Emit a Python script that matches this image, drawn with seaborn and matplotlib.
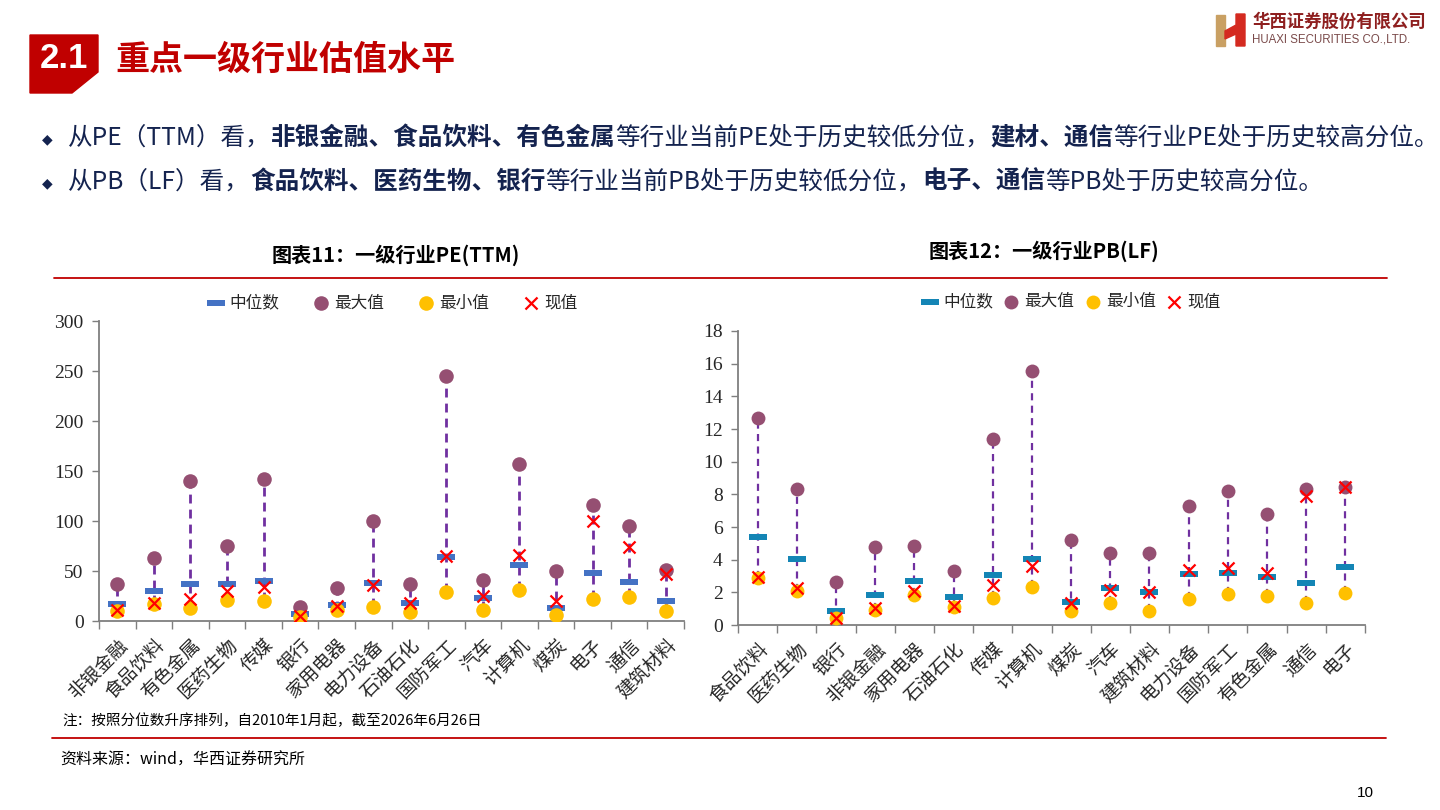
import numpy as np
import pandas as pd
import matplotlib
matplotlib.use("Agg")
import matplotlib.pyplot as plt
import matplotlib.patches as mpatches
import seaborn as sns

# ---- data: PE(TTM) ----
pe_industry = ["非银金融", "食品饮料", "有色金属", "医药生物", "传媒", "银行", "家用电器", "电力设备",
               "石油石化", "国防军工", "汽车", "计算机", "煤炭", "电子", "通信", "建筑材料"]
pe_median = [17, 30, 37, 37, 40, 7, 16, 38, 18, 64, 23, 56, 13, 48, 39, 20]
pe_max = [37, 63, 140, 75, 142, 14, 33, 100, 37, 245, 41, 157, 50, 116, 95, 51]
pe_min = [10, 17, 13, 21, 20, 4, 11, 14, 9, 29, 11, 31, 6, 22, 24, 10]
pe_now = [11, 18, 22, 30, 34, 5, 15, 36, 18, 65, 25, 66, 20, 100, 74, 47]

# ---- data: PB(LF) ----
pb_industry = ["食品饮料", "医药生物", "银行", "非银金融", "家用电器", "石油石化", "传媒", "计算机",
               "煤炭", "汽车", "建筑材料", "电力设备", "国防军工", "有色金属", "通信", "电子"]
pb_median = [5.36, 4.04, 0.86, 1.83, 2.71, 1.69, 3.06, 4.04, 1.43, 2.24, 2.0, 3.12, 3.2, 2.92, 2.55, 3.53]
pb_max = [12.68, 8.32, 2.61, 4.75, 4.83, 3.3, 11.38, 15.53, 5.2, 4.42, 4.38, 7.28, 8.22, 6.77, 8.3, 8.46]
pb_min = [2.9, 2.08, 0.41, 0.92, 1.83, 1.08, 1.63, 2.35, 0.83, 1.36, 0.88, 1.57, 1.88, 1.75, 1.35, 1.98]
pb_now = [2.91, 2.24, 0.41, 1.02, 2.1, 1.18, 2.45, 3.63, 1.36, 2.14, 2.0, 3.36, 3.47, 3.2, 7.9, 8.46]

W, H = 1440, 810
RED = "#C00000"
NAVY = "#14234F"
C_MAX = "#954F72"
C_MIN = "#FFC000"
C_NOW = "#FF0000"
C_LINE = "#7030A0"
BAR = [(-1.6, -0.5), (1.6, -0.5), (1.6, 0.5), (-1.6, 0.5), (-1.6, -0.5)]


def fx(x):
    return x / W


def fy(y):
    return 1 - y / H


def draw_runs(fig, x, y, runs, size, color):
    """Write text pieces one after another, some of them bold."""
    r = fig.canvas.get_renderer()
    for text, bold in runs:
        t = fig.text(fx(x), fy(y), text, fontsize=size, color=color, va="center",
                     fontweight="bold" if bold else "normal")
        x += t.get_window_extent(r).width


def draw_panel(ax, industry, median, vmax, vmin, now, med_color, ymax, ystep,
               s_dot, lw, dash, leg_pos, colspace):
    df = pd.DataFrame({"行业": industry, "中位数": median, "最大值": vmax,
                       "最小值": vmin, "现值": now})
    sns.scatterplot(data=df, x="行业", y="中位数", marker=BAR, s=175, color=med_color,
                    linewidth=0, label="中位数", ax=ax, zorder=3)
    sns.scatterplot(data=df, x="行业", y="最大值", marker="o", s=s_dot, color=C_MAX,
                    linewidth=0, label="最大值", ax=ax, zorder=3)
    sns.scatterplot(data=df, x="行业", y="最小值", marker="o", s=s_dot, color=C_MIN,
                    linewidth=0, label="最小值", ax=ax, zorder=4)
    sns.scatterplot(data=df, x="行业", y="现值", marker="x", s=75, color=C_NOW,
                    linewidth=1.6, label="现值", ax=ax, zorder=5)
    ax.vlines(df["行业"], df["最小值"], df["最大值"], colors=C_LINE, lw=lw,
              linestyles=(0, dash), zorder=2)

    n = len(df)
    ax.set_xlim(-0.5, n - 0.5)
    ax.set_ylim(0, ymax)
    ax.set_xticks(np.arange(n))
    ax.set_xticklabels(industry, rotation=45, ha="right", rotation_mode="anchor",
                       fontsize=13.5)
    ax.set_xticks(np.arange(-0.5, n, 1), minor=True)
    yt = np.arange(0, ymax + ystep / 2, ystep)
    ax.set_yticks(yt)
    ax.set_yticklabels([f"{v:g}" for v in yt], fontfamily="Liberation Serif", fontsize=14)
    ax.tick_params(axis="x", which="major", length=0, pad=10)
    ax.tick_params(axis="x", which="minor", length=6, width=1, color="#7F7F7F")
    ax.tick_params(axis="y", length=5, width=1, color="#7F7F7F", pad=6)
    ax.set_xlabel("")
    ax.set_ylabel("")
    sns.despine(ax=ax)
    for side in ["left", "bottom"]:
        ax.spines[side].set_color("#7F7F7F")
        ax.spines[side].set_linewidth(1.3)
    ax.legend(loc="center", bbox_to_anchor=leg_pos, ncol=4, frameon=False,
              fontsize=12, handletextpad=0.2, columnspacing=colspace,
              borderaxespad=0, handlelength=1.2)


sns.set_style("ticks")
plt.rcParams["font.family"] = ["Noto Sans CJK SC", "DejaVu Sans"]
plt.rcParams["axes.unicode_minus"] = False

fig = plt.figure(figsize=(14.4, 8.1), dpi=100)

# header block
fig.patches.append(mpatches.Polygon(
    [(fx(30), fy(35)), (fx(98), fy(35)), (fx(98), fy(72)), (fx(72), fy(93)), (fx(30), fy(93))],
    closed=True, transform=fig.transFigure, color=RED))
fig.text(fx(64), fy(59), "2.1", color="white", fontsize=25, fontweight="bold",
         family="Liberation Sans", ha="center", va="center")
fig.text(fx(115), fy(59), "重点一级行业估值水平", color=RED, fontsize=24.5,
         fontweight="bold", va="center")

# logo
fig.patches.append(mpatches.Rectangle((fx(1216), fy(46)), 9 / W, 31 / H,
                                      transform=fig.transFigure, color="#C9A063"))
fig.patches.append(mpatches.Polygon(
    [(fx(1236), fy(14)), (fx(1245), fy(14)), (fx(1245), fy(46)), (fx(1236), fy(46)),
     (fx(1236), fy(34)), (fx(1225), fy(39)), (fx(1225), fy(31)), (fx(1236), fy(25))],
    closed=True, transform=fig.transFigure, color="#D42A20"))
fig.text(fx(1252), fy(22), "华西证券股份有限公司", color="#8E1F1F", fontsize=12.5,
         fontweight="bold", va="center")
fig.text(fx(1252), fy(40), "HUAXI SECURITIES CO.,LTD.", color="#7A4A4A", fontsize=8.3,
         family="Liberation Sans", va="center")

# bullets
fig.text(fx(47), fy(139), "◆", fontsize=10, color=NAVY, family="DejaVu Sans",
         ha="center", va="center")
fig.text(fx(47), fy(183), "◆", fontsize=10, color=NAVY, family="DejaVu Sans",
         ha="center", va="center")
draw_runs(fig, 68, 138, [("从PE（TTM）看，", False), ("非银金融、食品饮料、有色金属", True),
                         ("等行业当前PE处于历史较低分位，", False), ("建材、通信", True),
                         ("等行业PE处于历史较高分位。", False)], 17.7, NAVY)
draw_runs(fig, 68, 182, [("从PB（LF）看，", False), ("食品饮料、医药生物、银行", True),
                         ("等行业当前PB处于历史较低分位，", False), ("电子、通信", True),
                         ("等PB处于历史较高分位。", False)], 17.7, NAVY)

# chart titles and rules
fig.text(fx(396), fy(255), "图表11：一级行业PE(TTM)", fontsize=14.5, fontweight="bold",
         ha="center", va="center", color="black")
fig.text(fx(1044), fy(251), "图表12：一级行业PB(LF)", fontsize=14.5, fontweight="bold",
         ha="center", va="center", color="black")
fig.add_artist(plt.Line2D([fx(54), fx(1387)], [fy(278), fy(278)], color=RED, lw=1.3))
fig.add_artist(plt.Line2D([fx(52), fx(1386)], [fy(738), fy(738)], color=RED, lw=1.3))

ax1 = fig.add_axes([fx(99), fy(621), (684 - 99) / W, 300 / H])
draw_panel(ax1, pe_industry, pe_median, pe_max, pe_min, pe_now, "#4472C4", 300, 50,
           s_dot=110, lw=2, dash=(3.2, 2.2), leg_pos=(0.5, 1.06), colspace=1.9)

ax2 = fig.add_axes([fx(738), fy(625), (1365 - 738) / W, 294 / H])
draw_panel(ax2, pb_industry, pb_median, pb_max, pb_min, pb_now, "#1485B5", 18, 2,
           s_dot=100, lw=1.6, dash=(3.2, 2.4), leg_pos=(0.53, 1.1), colspace=0.5)

# footnotes
fig.text(fx(62), fy(721), "注：按照分位数升序排列，自2010年1月起，截至2026年6月26日",
         fontsize=10.5, style="italic", va="center", color="black")
fig.text(fx(60), fy(760), "资料来源：wind，华西证券研究所", fontsize=11.5, style="italic",
         va="center", color="black")
fig.text(fx(1365), fy(793), "10", fontsize=11, family="Liberation Sans", ha="center",
         va="center", color="black")

fig.savefig("out.png", dpi=100)
